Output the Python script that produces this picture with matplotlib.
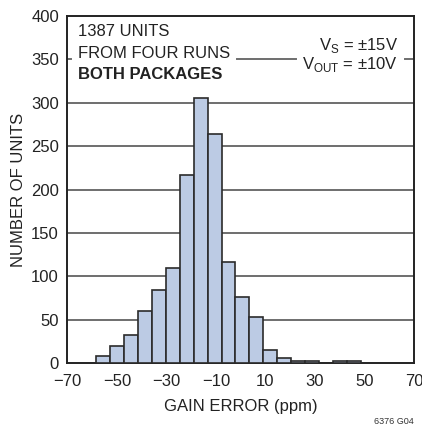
import numpy as np
import matplotlib
matplotlib.use("Agg")
import matplotlib.pyplot as plt
from matplotlib import font_manager

# histogram data
bin_start = -58.4
bin_width = 5.63
counts = [9, 20, 33, 60, 84, 110, 217, 306, 264, 117, 76, 53, 15, 6, 3, 3, 0, 3, 3]

x_ticks = [-70, -50, -30, -10, 10, 30, 50, 70]
y_ticks = [0, 50, 100, 150, 200, 250, 300, 350, 400]

names = {f.name for f in font_manager.fontManager.ttflist}
family = "Liberation Sans Narrow" if "Liberation Sans Narrow" in names else "Liberation Sans"
plt.rcParams["font.family"] = [family, "DejaVu Sans"]
plt.rcParams["axes.unicode_minus"] = True
plt.rcParams["mathtext.fontset"] = "custom"
plt.rcParams["mathtext.rm"] = family

fig = plt.figure(figsize=(4.22, 4.28), dpi=100)
ax = fig.add_axes([0.1595, 0.151, 0.8215, 0.812])

edges = bin_start + bin_width * np.arange(len(counts) + 1)
lefts = edges[:-1]
mask = np.array(counts) > 0
ax.bar(lefts[mask], np.array(counts)[mask], width=bin_width, align="edge",
       color="#bccbe4", edgecolor="#2b2b2b", linewidth=1.2, zorder=3)

grid_kw = dict(color="#6e6e6e", linewidth=1.4, zorder=1)
for y in y_ticks[1:-2]:
    ax.axhline(y, **grid_kw)
# the 350 line is broken where the annotation text sits
for x0, x1 in [(0.0, 0.012), (0.49, 0.66), (0.974, 1.0)]:
    ax.axhline(y_ticks[-2], x0, x1, **grid_kw)

ax.set_xlim(-70, 70)
ax.set_ylim(0, 400)
ax.set_xticks(x_ticks)
ax.set_yticks(y_ticks)
ax.set_xticklabels([f"{v:d}".replace("-", "\u2212") for v in x_ticks])
ax.tick_params(length=0, labelsize=12, colors="#222222")
ax.tick_params(axis="x", pad=8)
ax.tick_params(axis="y", pad=6)
for s in ax.spines.values():
    s.set_linewidth(1.4)
    s.set_color("#222222")

ax.set_xlabel("GAIN ERROR (ppm)", fontsize=12, color="#222222", labelpad=7)
ax.set_ylabel("NUMBER OF UNITS", fontsize=12, color="#222222", labelpad=4)

fs = 12
ax.text(0.03, 0.9425, "1387 UNITS", transform=ax.transAxes, fontsize=fs,
        va="baseline", ha="left", color="#222222")
ax.text(0.03, 0.8774, "FROM FOUR RUNS", transform=ax.transAxes, fontsize=fs,
        va="baseline", ha="left", color="#222222")
ax.text(0.03, 0.8179, "BOTH PACKAGES", transform=ax.transAxes, fontsize=fs,
        va="baseline", ha="left", color="#222222", fontweight="bold")
ax.text(0.955, 0.903, r"V$_\mathregular{S}$ = ±15V", transform=ax.transAxes,
        fontsize=fs, va="baseline", ha="right", color="#222222")
ax.text(0.955, 0.846, r"V$_\mathregular{OUT}$ = ±10V", transform=ax.transAxes,
        fontsize=fs, va="baseline", ha="right", color="#222222")

fig.text(0.98, 0.004, "6376 G04", fontsize=6.5, ha="right", va="bottom", color="#333333")

fig.savefig("out.png", dpi=100)
